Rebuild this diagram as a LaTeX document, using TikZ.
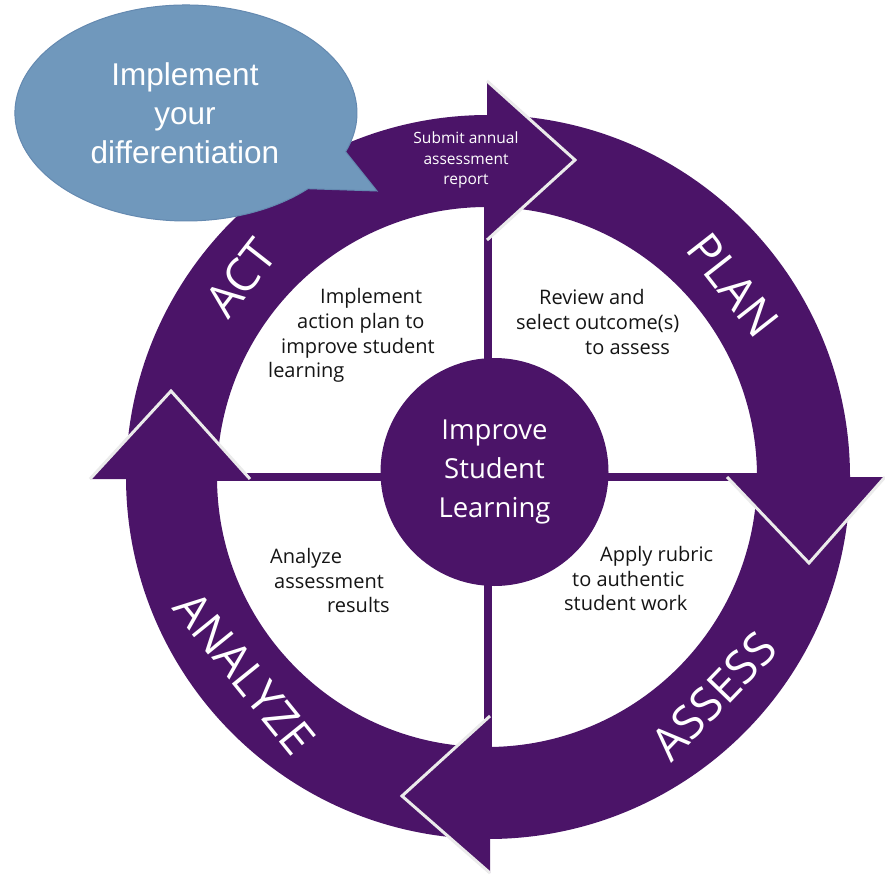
\documentclass[tikz,border=0pt]{standalone}
\usepackage{fontspec}
\setmainfont{Open Sans}
\newfontfamily\arialf{Liberation Sans}
\definecolor{ringpurple}{HTML}{4B1468}
\definecolor{callfill}{HTML}{7098BC}
\definecolor{callborder}{HTML}{6489B0}
\definecolor{edgewhite}{HTML}{EBEBEB}
\definecolor{txt}{HTML}{151515}
\begin{document}
\begin{tikzpicture}[x=1pt,y=1pt,
  ringlabel/.style={text=white, font=\fontsize{46}{46}\selectfont, inner sep=0pt},
  quad/.style={text=txt, font=\fontsize{20}{20}\selectfont, inner sep=0pt, anchor=base west},
  headedge/.style={draw=edgewhite, line width=3pt, line join=miter},
  headfill/.style={fill=ringpurple},
]
\useasboundingbox (0,0) rectangle (885,-877);
\fill[white] (0,0) rectangle (885,-877);
% ring
\fill[ringpurple, even odd rule] (488,-477) circle[radius=362pt] (487,-477) circle[radius=270pt];
% dividers
\draw[ringpurple, line width=8pt] (217,-477) -- (757,-477);
\draw[ringpurple, line width=8pt] (488,-207) -- (488,-747);
% centre
\node[circle, fill=ringpurple, minimum size=228pt, inner sep=0pt, align=center, text=white,
  font=\fontsize{27.5}{39}\selectfont] (hub) at (494.5,-472) {Improve\\Student\\Learning};
% arrow heads
\fill[headfill] (487,-81) -- (575,-160) -- (487,-240) -- cycle;
\draw[headedge] (487,-81) -- (575,-160) -- (487,-240);
\fill[headfill] (727,-477) -- (809,-563) -- (885,-477) -- cycle;
\draw[headedge] (727,-477) -- (809,-563) -- (885,-477);
\fill[headfill] (490,-716) -- (402,-796) -- (490,-873) -- cycle;
\draw[headedge] (490,-716) -- (402,-796) -- (490,-873);
\fill[headfill] (90,-479) -- (171,-391) -- (250,-479) -- cycle;
\draw[headedge] (90,-479) -- (171,-391) -- (250,-479);
% ring labels
\node[ringlabel, rotate=52] (act) at (241,-278) {ACT};
\node[ringlabel, rotate=-52] (plan) at (733,-285) {PLAN};
\node[ringlabel, rotate=46] (assess) at (714,-696) {ASSESS};
\node[ringlabel, rotate=-51] (analyze) at (245,-673) {ANALYZE};
% quadrant texts
\node[quad] (q1a) at (320,-303) {Implement};
\node[quad] (q1b) at (297,-328) {action plan to};
\node[quad] (q1c) at (281,-353) {improve student};
\node[quad] (q1d) at (268,-377) {learning};
\node[quad] (q2a) at (539,-304) {Review and};
\node[quad] (q2b) at (516,-329) {select outcome(s)};
\node[quad] (q2c) at (585,-354) {to assess};
\node[quad] (q3a) at (270,-563) {Analyze};
\node[quad] (q3b) at (274,-588) {assessment};
\node[quad] (q3c) at (327,-612) {results};
\node[quad] (q4a) at (600,-561) {Apply rubric};
\node[quad] (q4b) at (572,-586) {to authentic};
\node[quad] (q4c) at (564,-610) {student work};
% submit text
\node[text=white, align=center, inner sep=0pt, font=\fontsize{15.5}{20.5}\selectfont] (submit) at (466,-160)
  {Submit annual\\assessment\\report};
% callout
\path[fill=callfill, draw=callborder, line width=1pt, line join=miter]
  (345.6,-151.7) arc[start angle=-21, end angle=315.5, x radius=171pt, y radius=108pt]
  -- (377,-191) -- cycle;
\node[text=white, align=center, inner sep=0pt, font=\arialf\fontsize{31.5}{39}\selectfont] (callout) at (185,-113.5)
  {Implement\\your\\differentiation};
\end{tikzpicture}
\end{document}
